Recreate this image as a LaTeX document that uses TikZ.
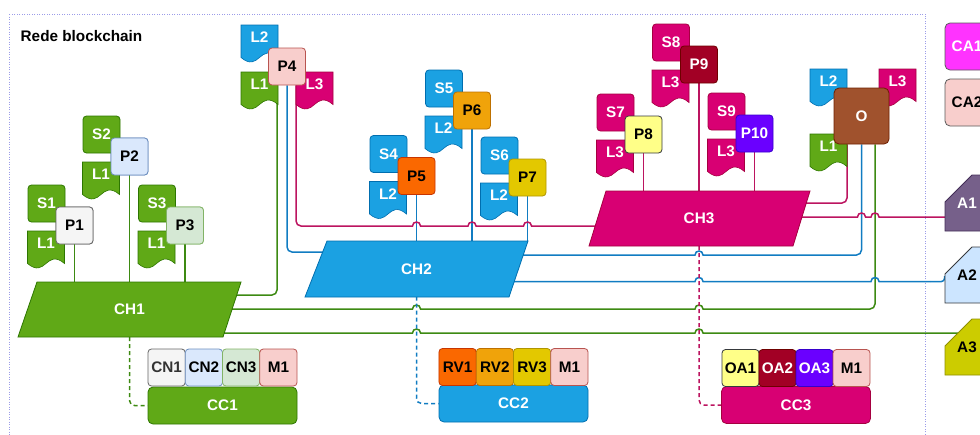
\documentclass[tikz,border=0pt]{standalone}
\usepackage{fontspec}
\setmainfont{Liberation Sans}
\definecolor{gF}{HTML}{60A917}\definecolor{gS}{HTML}{2D7600}
\definecolor{bF}{HTML}{1BA1E2}\definecolor{bS}{HTML}{006EAF}
\definecolor{pF}{HTML}{D80073}\definecolor{pS}{HTML}{A50040}
\definecolor{gL}{HTML}{3D8A12}\definecolor{bL}{HTML}{117CC2}\definecolor{pL}{HTML}{BC1460}
\definecolor{frameC}{HTML}{9C9CE8}
\definecolor{c1F}{HTML}{F5F5F5}\definecolor{c1S}{HTML}{666666}
\definecolor{c2F}{HTML}{DAE8FC}\definecolor{c2S}{HTML}{6C8EBF}
\definecolor{c3F}{HTML}{D5E8D4}\definecolor{c3S}{HTML}{82B366}
\definecolor{c4F}{HTML}{F8CECC}\definecolor{c4S}{HTML}{B85450}
\definecolor{c5F}{HTML}{FA6800}\definecolor{c5S}{HTML}{C73500}
\definecolor{c6F}{HTML}{F0A30A}\definecolor{c6S}{HTML}{BD7000}
\definecolor{c7F}{HTML}{E3C800}\definecolor{c7S}{HTML}{B09500}
\definecolor{c8F}{HTML}{FFFF88}\definecolor{c8S}{HTML}{36393D}
\definecolor{c9F}{HTML}{A20025}\definecolor{c9S}{HTML}{6F0000}
\definecolor{c10F}{HTML}{6A00FF}\definecolor{c10S}{HTML}{3700CC}
\definecolor{oF}{HTML}{A0522D}\definecolor{oS}{HTML}{6D1F00}
\definecolor{ca1F}{HTML}{FF33FF}\definecolor{caS}{HTML}{5A5A5A}
\definecolor{a1F}{HTML}{76608A}\definecolor{a1S}{HTML}{432D57}
\definecolor{a2F}{HTML}{CCE5FF}\definecolor{a2S}{HTML}{36393D}
\definecolor{a3F}{HTML}{CCCC00}\definecolor{a3S}{HTML}{8F8F00}
\definecolor{dk}{HTML}{333333}
\tikzset{
  lbl/.style={font=\fontsize{15.3}{18}\selectfont\bfseries, inner sep=0pt},
  sq/.style={lbl, rounded corners=3.5pt, minimum width=37pt, minimum height=37pt, line width=0.8pt},
  sbox/.style={sq, fill=#1F, draw=#1S, text=white},
  pbox/.style={sq, fill=#1F, draw=#1S},
  chn/.style={lbl, text=white, minimum width=150pt, minimum height=55pt},
  ccn/.style={lbl, text=white, rounded corners=5pt, minimum width=149pt, minimum height=37pt, line width=0.8pt},
  conn/.style={line width=1.5pt},
  gl/.style={conn, draw=gL}, bl/.style={conn, draw=bL}, pl/.style={conn, draw=pL},
  dsh/.style={dash pattern=on 4pt off 3pt},
  hop/.style 2 args={insert path={-- ({#1-4},#2) .. controls ({#1-4},{#2-5.3}) and ({#1+4},{#2-5.3}) .. ({#1+4},#2)}},
}
% flag: name, x, y (top-left), colour prefix, text
\newcommand\flagshape[5]{%
  \filldraw[fill=#4F, draw=#4S, line width=0.6pt] (#2,#3) -- ++(37,0) -- ++(0,32.5) .. controls +(-18.5,-15.6) and +(18.5,15.6) .. ++(-37,0) -- cycle;
  \node[lbl, text=white] (#1) at ({#2+18.5},{#3+12.5}) {#5};}
\begin{document}
\begin{tikzpicture}[x=1pt,y=-1pt]
\useasboundingbox (0,0) rectangle (980,434);
\clip (0,0) rectangle (980,434);
% frame
\draw[frameC, line width=1pt, dash pattern=on 1pt off 1.5pt] (9,14) rectangle (925,445);
\node[lbl, anchor=west] (title) at (20.5,36.5) {Rede blockchain};

% named anchors for CH blocks and O, A nodes (placed first for connectors)
\node[chn] (CH1) at (129.5,309.5) {};
\node[chn] (CH2) at (416.5,269) {};
\node[chn] (CH3) at (699,218.5) {};
\node[sq, minimum width=55pt, minimum height=56pt] (O) at (861.5,116) {};
\node[pbox=c1] (P1) at (74.5,225.5) {};
\node[pbox=c2] (P2) at (129.5,156.5) {};
\node[pbox=c3] (P3) at (185,225.5) {};
\node[sq] (P4) at (287,66.5) {};
\node[sq] (P5) at (416.5,176) {};
\node[sq] (P6) at (472,110.5) {};
\node[sq] (P7) at (527.5,177.5) {};
\node[sq] (P8) at (643.5,134.5) {};
\node[sq] (P9) at (699,64.5) {};
\node[sq] (P10) at (754.5,133.5) {};
\node[ccn] (CC1) at (222.5,405.5) {};
\node[ccn] (CC2) at (513.5,403.5) {};
\node[ccn] (CC3) at (796,405) {};
\node[lbl, minimum width=44pt, minimum height=56pt] (A1) at (967,203) {};
\coordinate (a2in) at (944.5,276);
\coordinate (a3in) at (958,333);

% ---------- connectors ----------
\foreach \p in {P1,P2,P3} \draw[gl] (\p.south) -- (\p.south |- CH1.north);
\foreach \p in {P5,P6,P7} \draw[bl] (\p.south) -- (\p.south |- CH2.north);
\foreach \p in {P8,P9,P10} \draw[pl] (\p.south) -- (\p.south |- CH3.north);
% P4 links
\draw[gl, rounded corners=5pt] ([xshift=-10pt]P4.south) |- (CH1.center |- 0,295);
\draw[bl, rounded corners=5pt] (P4.south) |- (CH2.center |- 0,252);
\draw[pl, rounded corners=5pt] ([xshift=9pt]P4.south) |- (320,226);
\draw[pl] (320,226) [hop={416.5}{226}] [hop={472}{226}] [hop={527.5}{226}] -- (CH3.center |- 0,226);
% CH1 links
\draw[gl] (CH1.center |- 0,309) [hop={416.5}{309}] [hop={699}{309}] -- (850,309);
\draw[gl, rounded corners=5pt] (850,309) -| ([xshift=13.5pt]O.south);
\draw[gl] (CH1.center |- 0,333) [hop={416.5}{333}] [hop={699}{333}] -- (a3in);
% CH2 links
\draw[bl] (CH2.center |- 0,255) [hop={699}{255}] -- (840,255);
\draw[bl, rounded corners=5pt] (840,255) -| (O.south);
\draw[bl] (CH2.center |- 0,281.5) [hop={699}{281.5}] [hop={875}{281.5}] -- (930,281.5);
\draw[bl, rounded corners=3pt] (930,281.5) -| (a2in);
% CH3 links
\draw[pl, rounded corners=5pt] (CH3.center |- 0,203) -| ([xshift=-14.5pt]O.south);
\draw[pl] (CH3.center |- 0,217) [hop={861.5}{217}] [hop={875}{217}] -- (A1.west |- 0,217);
% dashed links to contracts
\draw[gl, dsh, rounded corners=5pt] (CH1.south) |- (CC1.west);
\draw[bl, dsh, rounded corners=5pt] (CH2.south) |- (CC2.west);
\draw[pl, dsh, rounded corners=5pt] (CH3.south) |- (CC3.west);

% ---------- channels ----------
\filldraw[fill=gF, draw=gS, line width=0.8pt] (18,337) -- (37,282) -- (241,282) -- (223,337) -- cycle;
\filldraw[fill=bF, draw=bS, line width=0.8pt] (305,297) -- (327,241) -- (528,241) -- (509,297) -- cycle;
\filldraw[fill=pF, draw=pS, line width=0.8pt] (589,246) -- (606,191) -- (810,191) -- (793,246) -- cycle;
\node[chn] at (CH1) {CH1};
\node[chn] at (CH2) {CH2};
\node[chn] at (CH3) {CH3};

% ---------- peer groups ----------
\node[sbox=g] (S1) at (46.5,203.5) {S1};
\flagshape{L1a}{27.5}{231}{g}{L1}
\node[pbox=c1] at (P1) {P1};
\node[sbox=g] (S2) at (101.5,134.5) {S2};
\flagshape{L1b}{82.5}{162}{g}{L1}
\node[pbox=c2] at (P2) {P2};
\node[sbox=g] (S3) at (157,203.5) {S3};
\flagshape{L1c}{138}{231}{g}{L1}
\node[pbox=c3] at (P3) {P3};

\flagshape{L2d}{241}{25}{b}{L2}
\flagshape{L1d}{241}{72}{g}{L1}
\flagshape{L3d}{296}{72}{p}{L3}
\node[pbox=c4] at (P4) {P4};

\node[sbox=b] (S4) at (388.5,154) {S4};
\flagshape{L2e}{369.5}{181.5}{b}{L2}
\node[pbox=c5] at (P5) {P5};
\node[sbox=b] (S5) at (444,88.5) {S5};
\flagshape{L2f}{425}{116}{b}{L2}
\node[pbox=c6] at (P6) {P6};
\node[sbox=b] (S6) at (499.5,155.5) {S6};
\flagshape{L2g}{480.5}{183}{b}{L2}
\node[pbox=c7] at (P7) {P7};

\node[sbox=p] (S7) at (615.5,112.5) {S7};
\flagshape{L3h}{596.5}{140}{p}{L3}
\node[pbox=c8] at (P8) {P8};
\node[sbox=p] (S8) at (671,42.5) {S8};
\flagshape{L3i}{652}{70}{p}{L3}
\node[pbox=c9, text=white] at (P9) {P9};
\node[sbox=p] (S9) at (726.5,111.5) {S9};
\flagshape{L3j}{707.5}{139}{p}{L3}
\node[pbox=c10, text=white] at (P10) {P10};

\flagshape{L2o}{810}{69}{b}{L2}
\flagshape{L1o}{810}{134}{g}{L1}
\flagshape{L3o}{879}{69}{p}{L3}
\node[sq, minimum width=55pt, minimum height=56pt, rounded corners=5pt, fill=oF, draw=oS, text=white] at (O) {O};

% ---------- contracts ----------
\node[ccn, fill=gF, draw=gS] at (CC1) {CC1};
\node[pbox=c1, text=dk, minimum width=37.25pt] (CN1) at (166.6,367.5) {CN1};
\node[pbox=c2, minimum width=37.25pt] (CN2) at (203.9,367.5) {CN2};
\node[pbox=c3, minimum width=37.25pt] (CN3) at (241.1,367.5) {CN3};
\node[pbox=c4, minimum width=37.25pt] (M1a) at (278.4,367.5) {M1};

\node[ccn, fill=bF, draw=bS] at (CC2) {CC2};
\node[pbox=c5, minimum width=37.25pt] (RV1) at (457.6,367) {RV1};
\node[pbox=c6, minimum width=37.25pt] (RV2) at (494.9,367) {RV2};
\node[pbox=c7, minimum width=37.25pt] (RV3) at (532.1,367) {RV3};
\node[pbox=c4, minimum width=37.25pt] (M1b) at (569.4,367) {M1};

\node[ccn, fill=pF, draw=pS] at (CC3) {CC3};
\node[pbox=c8] (OA1) at (740.5,368) {OA1};
\node[pbox=c9, text=white] (OA2) at (777.5,368) {OA2};
\node[pbox=c10, text=white] (OA3) at (814.5,368) {OA3};
\node[pbox=c4] (M1c) at (851.5,368) {M1};

% ---------- right column ----------
\node[sq, minimum width=44pt, minimum height=47pt, rounded corners=5pt, fill=ca1F, draw=caS, text=white] (CA1) at (967,46.5) {CA1};
\node[sq, minimum width=44pt, minimum height=47pt, rounded corners=5pt, fill=c4F, draw=caS] (CA2) at (967,102.5) {CA2};
\filldraw[fill=a1F, draw=a1S, line width=0.8pt] (945,202) -- (972,175) -- (989,175) -- (989,231) -- (945,231) -- cycle;
\node[lbl, text=white] at (A1) {A1};
\filldraw[fill=a2F, draw=a2S, line width=0.8pt] (945,274) -- (972,247) -- (989,247) -- (989,303) -- (945,303) -- cycle;
\node[lbl] (A2) at (967,275) {A2};
\filldraw[fill=a3F, draw=a3S, line width=0.8pt] (945,346) -- (972,319) -- (989,319) -- (989,375) -- (945,375) -- cycle;
\node[lbl] (A3) at (967,347) {A3};
\end{tikzpicture}
\end{document}
